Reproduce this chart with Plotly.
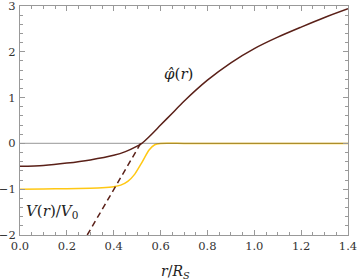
import plotly.graph_objects as go

# phi-hat(r)
r_phi = [0.0, 0.1, 0.2, 0.3, 0.4, 0.45, 0.5, 0.52, 0.55, 0.6, 0.65, 0.7, 0.8, 0.9, 1.0, 1.1, 1.2, 1.3, 1.4]
phi = [-0.50, -0.48, -0.43, -0.36, -0.26, -0.18, -0.06, 0.0, 0.14, 0.40, 0.66, 0.92, 1.38, 1.76, 2.07, 2.32, 2.54, 2.75, 2.94]

# V(r)/V0
r_v = [0.0, 0.1, 0.2, 0.3, 0.35, 0.4, 0.43, 0.46, 0.49, 0.52, 0.55, 0.575, 0.6, 0.7, 1.0, 1.4]
v = [-1.0, -0.995, -0.99, -0.978, -0.968, -0.945, -0.91, -0.83, -0.67, -0.42, -0.15, -0.03, 0.0, 0.0, 0.0, 0.0]

# dashed asymptote
r_dash = [0.287, 0.515]
dash_vals = [-2.0, 0.0]

# zero reference line
r_zero = [0.0, 1.4]
zero_vals = [0.0, 0.0]

x_ticks = [0.0, 0.2, 0.4, 0.6, 0.8, 1.0, 1.2, 1.4]
x_ticklabels = ["0.0", "0.2", "0.4", "0.6", "0.8", "1.0", "1.2", "1.4"]
y_ticks = [-2, -1, 0, 1, 2, 3]
y_ticklabels = ["\u22122", "\u22121", "0", "1", "2", "3"]

brown = "#5a2018"
gold = "#ffc814"
frame = "#999999"
font = "DejaVu Serif"

fig = go.Figure()
fig.add_trace(go.Scatter(x=r_v, y=v, mode="lines", line=dict(color=gold, width=1.5, shape="spline", smoothing=0.6)))
fig.add_trace(go.Scatter(x=r_zero, y=zero_vals, mode="lines", line=dict(color="rgba(70,70,70,0.45)", width=1.2)))
fig.add_trace(go.Scatter(x=r_dash, y=dash_vals, mode="lines", line=dict(color=brown, width=1.5, dash="6px,4px")))
fig.add_trace(go.Scatter(x=r_phi, y=phi, mode="lines", line=dict(color=brown, width=1.5, shape="spline", smoothing=0.8)))

axis_common = dict(
    showline=True, linecolor=frame, linewidth=1, mirror="ticks",
    ticks="inside", tickcolor=frame, ticklen=5, tickwidth=1,
    showgrid=False, zeroline=False, automargin=False,
    ticklabeloverflow="allow",
    tickfont=dict(family=font, size=11.5, color="#333333"),
)

fig.update_xaxes(
    range=[0, 1.4], tickvals=x_ticks, ticktext=x_ticklabels,
    minor=dict(ticks="inside", ticklen=3, tickcolor=frame, dtick=0.05, showgrid=False),
    **axis_common,
)
fig.update_yaxes(
    range=[-2, 3], tickvals=y_ticks, ticktext=y_ticklabels,
    minor=dict(ticks="inside", ticklen=3, tickcolor=frame, dtick=0.2, showgrid=False),
    ticklabelstandoff=1,
    **axis_common,
)

fig.add_annotation(x=0.675, y=1.51, text="<i>\u03c6\u0302</i>(<i>r</i>)", showarrow=False,
                   font=dict(family=font, size=15, color="#222222"))
fig.add_annotation(x=0.135, y=-1.48, text="<i>V</i>(<i>r</i>)/<i>V</i><sub>0</sub>", showarrow=False,
                   font=dict(family=font, size=15, color="#222222"))
fig.add_annotation(x=0.474, xref="paper", y=-0.16, yref="paper", yanchor="middle", showarrow=False,
                   text="<i>r</i>/<i>R</i><sub><i>S</i></sub>", font=dict(family=font, size=14, color="#222222"))

fig.update_layout(
    width=357, height=280,
    margin=dict(l=20, r=9, t=6, b=45, autoexpand=False),
    paper_bgcolor="white", plot_bgcolor="white",
    font=dict(family=font),
    showlegend=False,
)

fig.write_html("out.html", config={"displayModeBar": False},
               post_script="document.body.style.margin='0';")
